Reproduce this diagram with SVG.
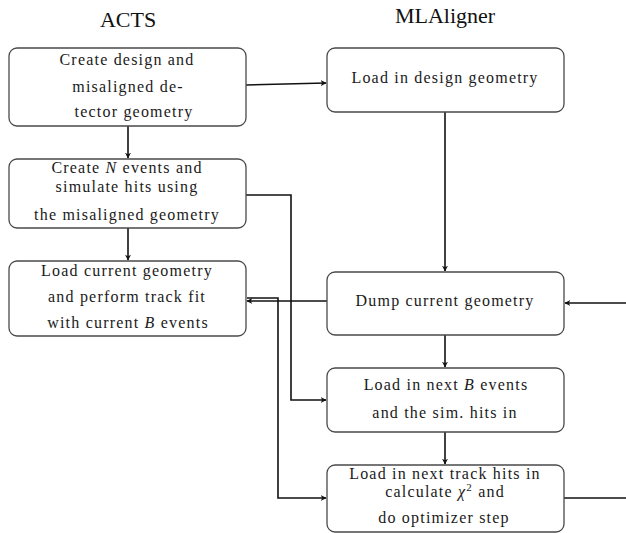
<svg xmlns="http://www.w3.org/2000/svg" width="626" height="533" viewBox="0 0 626 533">
<defs>
<style>
.box{fill:#fff;stroke:#4a4a4a;stroke-width:1.3}
.c{fill:none;stroke:#111;stroke-width:1.6}
</style>
<marker id="ah" viewBox="0 0 10 10" refX="9" refY="5" markerWidth="6" markerHeight="6" markerUnits="userSpaceOnUse" orient="auto">
<path d="M0,0 L10,5 L0,10 L3,5 Z" fill="#111"/>
</marker>
</defs>
<rect width="626" height="533" fill="#fff"/>
<g font-family="Liberation Serif" font-size="22" fill="#111" text-anchor="middle">
<text x="128" y="27">ACTS</text>
<text x="445" y="23">MLAligner</text>
</g>
<g id="connectors">
<path class="c" d="M246,85 L326,83" marker-end="url(#ah)"/>
<path class="c" d="M128,126 V158" marker-end="url(#ah)"/>
<path class="c" d="M128,228 V260" marker-end="url(#ah)"/>
<path class="c" d="M445,112 V271" marker-end="url(#ah)"/>
<path class="c" d="M445,335 V367" marker-end="url(#ah)"/>
<path class="c" d="M445,432 V464" marker-end="url(#ah)"/>
<path class="c" d="M246,195 H291 V400 H326" marker-end="url(#ah)"/>
<path class="c" d="M327,301 H247" marker-end="url(#ah)"/>
<path class="c" d="M247,298 H278 V498 H326" marker-end="url(#ah)"/>
<path class="c" d="M564,498 H626"/>
<path class="c" d="M626,303 H565" marker-end="url(#ah)"/>
</g>
<g font-family="Liberation Serif" font-size="16" fill="#1a1a1a" text-anchor="middle">
<g id="acts1">
<rect class="box" x="9" y="48" width="237" height="78" rx="8"/>
<text x="127" y="65" letter-spacing="1.2">Create design and</text>
<text x="128" y="92" letter-spacing="1.2">misaligned de-</text>
<text x="134" y="117" letter-spacing="1.2">tector geometry</text>
</g>
<g id="acts2">
<rect class="box" x="9" y="159" width="237" height="69" rx="8"/>
<text x="127" y="173" letter-spacing="1.2">Create <tspan font-style="italic">N</tspan> events and</text>
<text x="127" y="192" letter-spacing="1.2">simulate hits using</text>
<text x="127" y="220" letter-spacing="1.2">the misaligned geometry</text>
</g>
<g id="acts3">
<rect class="box" x="9" y="261" width="237" height="75" rx="8"/>
<text x="127" y="276" letter-spacing="1.2">Load current geometry</text>
<text x="127" y="302" letter-spacing="1.2">and perform track fit</text>
<text x="128" y="328" letter-spacing="1.2">with current <tspan font-style="italic">B</tspan> events</text>
</g>
<g id="ml1">
<rect class="box" x="327" y="48" width="237" height="64" rx="8"/>
<text x="445" y="83" letter-spacing="1.2">Load in design geometry</text>
</g>
<g id="ml2">
<rect class="box" x="327" y="272" width="237" height="63" rx="8"/>
<text x="445" y="306" letter-spacing="1.2">Dump current geometry</text>
</g>
<g id="ml3">
<rect class="box" x="327" y="368" width="237" height="64" rx="8"/>
<text x="446" y="390" letter-spacing="1.2">Load in next <tspan font-style="italic">B</tspan> events</text>
<text x="445" y="418" letter-spacing="1.2">and the sim. hits in</text>
</g>
<g id="ml4">
<rect class="box" x="327" y="465" width="237" height="67" rx="8"/>
<text x="445" y="479" letter-spacing="1.2">Load in next track hits in</text>
<text x="445" y="497" letter-spacing="1.2">calculate <tspan font-style="italic">χ</tspan><tspan font-size="11" dy="-6">2</tspan><tspan dy="6"> and</tspan></text>
<text x="444" y="523" letter-spacing="1.2">do optimizer step</text>
</g>
</g>
</svg>
